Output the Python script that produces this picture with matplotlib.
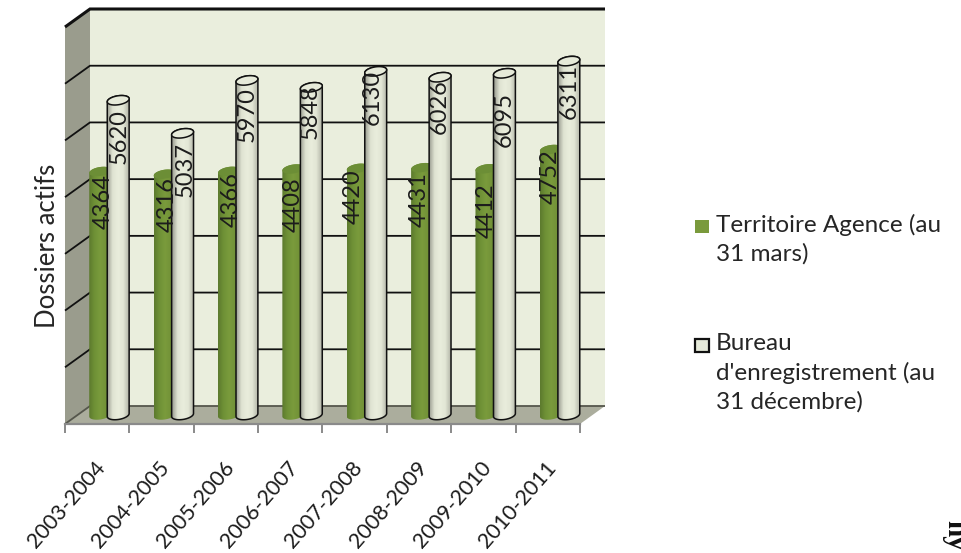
import numpy as np
import matplotlib
matplotlib.use('Agg')
import matplotlib.pyplot as plt
from matplotlib.colors import LinearSegmentedColormap
from matplotlib.patches import PathPatch, Polygon, Rectangle
from matplotlib.path import Path
from matplotlib.transforms import Affine2D

plt.rcParams['font.family'] = ['Lato', 'DejaVu Sans']

# data
periods = ['2003-2004', '2004-2005', '2005-2006', '2006-2007',
           '2007-2008', '2008-2009', '2009-2010', '2010-2011']
territoire = [4364, 4316, 4366, 4408, 4420, 4431, 4412, 4752]
bureau = [5620, 5037, 5970, 5848, 6130, 6026, 6095, 6311]
legend_labels = ['Territoire Agence (au\n31 mars)', "Bureau\nd'enregistrement (au\n31 décembre)"]
y_ticks = [0, 1000, 2000, 3000, 4000, 5000, 6000, 7000]

# label placement, pixels from the bar top / bar centre
drop_t = [3, 3, 1, 8, 1, 4, 15, 0]
drop_b = [9, 9, 7, -3, -1, 2, 19, 3]
side_t = [3, 3, 2, 0, -4, -3, 0, -1]
side_b = [1, 3, 0, -1, -3, -1, 0, 0]

W, H = 961, 553
LEFT, RIGHT, BOTTOM, TOP = 65, 580, 424, 27  # pixels, front plane of the 3d box
PX_PT = 0.72

fig = plt.figure(figsize=(W / 100, H / 100), dpi=100)
ax = fig.add_axes([LEFT / W, 1 - BOTTOM / H, (RIGHT - LEFT) / W, (BOTTOM - TOP) / H])
ax.set_xlim(0, len(periods))
ax.set_ylim(0, 7000)

# pixels to data units
px_x = len(periods) / (RIGHT - LEFT)
px_y = 7000 / (BOTTOM - TOP)
dep_x, dep_y = 25 * px_x, 18 * px_y
n = len(periods)

# walls
ax.add_patch(Polygon([(dep_x, dep_y), (n + dep_x, dep_y), (n + dep_x, 7000 + dep_y), (dep_x, 7000 + dep_y)],
                     fc='#EAEEDD', ec='none', zorder=1, clip_on=False))
ax.add_patch(Polygon([(0, 0), (dep_x, dep_y), (dep_x, 7000 + dep_y), (0, 7000)],
                     fc='#9A9C8D', ec='none', zorder=1, clip_on=False))
ax.add_patch(Polygon([(0, 0), (n, 0), (n + dep_x, dep_y), (dep_x, dep_y)],
                     fc='#ABAD9D', ec='none', zorder=1, clip_on=False))
for v in y_ticks:
    lw = 2.2 if v == 7000 else 1.3
    col = '#55564c' if v == 0 else '#111111'
    ax.plot([0, dep_x, n + dep_x], [v, v + dep_y, v + dep_y], color=col, lw=lw, zorder=2,
            clip_on=False, solid_capstyle='butt', solid_joinstyle='miter')

green_map = LinearSegmentedColormap.from_list('g', ['#5c7a2e', '#6f9136', '#7a9b3c', '#739338', '#5f7f2f'])
white_map = LinearSegmentedColormap.from_list('w', ['#9a9c90', '#dfe3d2', '#e9eddc', '#e2e6d5', '#b4b6a9'])


def cylinder(xc, val, cmap, cap, edge, lw, z):
    # one bar: gradient body clipped on the outline, then the top cap
    half = 0.17
    ry = 4.5 * px_y
    tilt = 1.5 * px_y
    base = 9 * px_y
    top = val + 5 * px_y
    t = np.linspace(0, np.pi, 40)
    ex = half * np.cos(t)
    low = np.column_stack([xc - ex, base - ry * np.sin(t) - tilt * ex / half])
    up = np.column_stack([xc + ex, top + ry * np.sin(t) + tilt * ex / half])
    body = np.vstack([low, up, low[:1]])
    im = ax.imshow(np.linspace(0, 1, 64).reshape(1, -1), cmap=cmap, aspect='auto', zorder=z,
                   extent=[xc - half, xc + half, base - 2 * ry, top + 2 * ry], clip_on=True)
    patch = PathPatch(Path(body), fc='none', ec=edge, lw=lw, zorder=z + 0.1, clip_on=False)
    ax.add_patch(patch)
    im.set_clip_path(patch)
    lid = np.column_stack([xc + ex, top - ry * np.sin(t) + tilt * ex / half])
    ax.add_patch(Polygon(np.vstack([up, lid[::-1]]), fc=cap, ec=edge, lw=lw, zorder=z + 0.2, clip_on=False))


def bar_label(xc, val, side, drop):
    ax.annotate(str(val), (xc, val + 5 * px_y), xytext=(side * PX_PT, -drop * PX_PT), textcoords='offset points',
                rotation=90, ha='center', va='top', fontsize=17, color='#1c1c1c', zorder=30,
                annotation_clip=False)


for i in range(n):
    xc = i + 0.5 + 12 * px_x
    cylinder(xc - 0.14, territoire[i], green_map, '#6c8e36', 'none', 0, 3 + i * 2)
    cylinder(xc + 0.14, bureau[i], white_map, '#E6EAD9', '#111111', 1.1, 4 + i * 2)
    bar_label(xc - 0.14, territoire[i], side_t[i], drop_t[i])
    bar_label(xc + 0.14, bureau[i], side_b[i], drop_b[i])

ax.set_xlim(0, n)
ax.set_ylim(0, 7000)

# axes
for s in ['top', 'left', 'right']:
    ax.spines[s].set_visible(False)
ax.spines['bottom'].set_color('#8a8a8a')
ax.spines['bottom'].set_linewidth(1.6)
ax.spines['bottom'].set_zorder(2)
ax.set_yticks([])
ax.set_xticks(np.arange(n + 1))
ax.set_xticklabels([])
ax.tick_params(axis='x', which='major', length=6.5, width=1.4, color='#8a8a8a')
ax.set_xticks(np.arange(n) + 0.5, minor=True)
ax.set_xticklabels(periods, minor=True, rotation=49, ha='right', rotation_mode='anchor',
                   fontsize=15.5, color='#1c1c1c')
ax.tick_params(axis='x', which='minor', length=0, pad=24)
for lab in ax.get_xticklabels(minor=True):
    lab.set_transform(lab.get_transform() + Affine2D().translate(-3, 0))
fig.text(48 / W, 1 - 246 / H, 'Dossiers actifs', rotation=90, ha='center', va='center',
         fontsize=18.5, color='#262626')

# legend
fig.add_artist(Rectangle((695 / W, 1 - 233 / H), 14 / W, 13 / H, transform=fig.transFigure, fc='#7A9A3C', ec='none'))
fig.add_artist(Rectangle((695 / W, 1 - 352 / H), 14 / W, 13 / H, transform=fig.transFigure, fc='#E6EAD9',
                         ec='#111111', lw=1.6))
fig.text(716 / W, 1 - 214 / H, legend_labels[0], ha='left', va='top', fontsize=17.5, color='#262626', linespacing=1.42)
fig.text(716 / W, 1 - 333 / H, legend_labels[1], ha='left', va='top', fontsize=17.5, color='#262626', linespacing=1.42)

# scrap of rotated text in the page corner
fig.text(955 / W, 1 - 535 / H, 'ñy', rotation=-90, ha='center', va='center', fontsize=21, fontweight='bold',
         family='Liberation Serif', color='#111111')

fig.savefig('out.png', dpi=100)
